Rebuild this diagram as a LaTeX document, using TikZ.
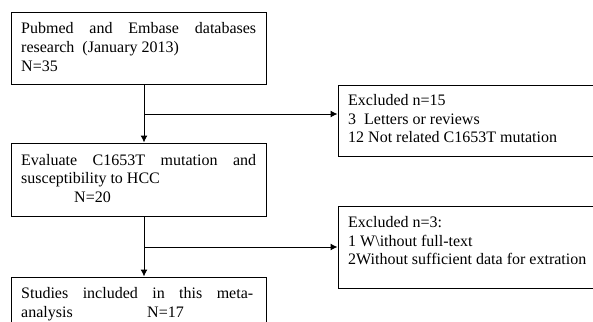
\documentclass[tikz,border=0pt]{standalone}
\usepackage{fontspec}
\setmainfont{Liberation Serif}
\usetikzlibrary{arrows.meta}
\begin{document}
\begin{tikzpicture}[x=1pt,y=-1pt,
  box/.style={draw, line width=1pt, rectangle, inner sep=0pt},
  txt/.style={anchor=base west, inner sep=0pt, font=\fontsize{16}{18.5}\selectfont},
  link/.style={line width=1pt},
  arr/.style={line width=1pt, -{Latex[length=7pt,width=7pt]}}]
\useasboundingbox (0,0) rectangle (593,321);
\clip (0,0) rectangle (593,321);
% boxes
\node[box, minimum width=255pt, minimum height=71pt] (b1) at (138.5,48.5) {};
\node[box, minimum width=255pt, minimum height=73pt] (b2) at (138.5,179.5) {};
\node[box, minimum width=255pt, minimum height=70pt] (b4) at (138.5,312) {};
\node[box, minimum width=270pt, minimum height=71pt] (b3) at (473,120.5) {};
\node[box, minimum width=270pt, minimum height=82pt] (b5) at (473,247) {};
% box 1 text
\node[txt] (t11) at (21,34) {\hbox to 235pt{Pubmed\hfill and\hfill Embase\hfill databases}};
\node[txt] (t12) at (21,52.5) {research\ \ (January 2013)};
\node[txt] (t13) at (21,71) {N=35};
% box 2 text
\node[txt] (t21) at (21,165) {\hbox to 235pt{Evaluate\hfill C1653T\hfill mutation\hfill and}};
\node[txt] (t22) at (21,183.5) {susceptibility to HCC};
\node[txt] (t23) at (74,202) {N=20};
% box 4 text
\node[txt] (t41) at (21,298.5) {\hbox to 232pt{Studies\hfill included\hfill in\hfill this\hfill meta-}};
\node[txt] (t42) at (21,317) {analysis};
\node[txt] (t43) at (147,317) {N=17};
% box 3 text
\node[txt] (t31) at (348,105.5) {Excluded n=15};
\node[txt] (t32) at (348,124) {3\ \ Letters or reviews};
\node[txt] (t33) at (348,142.5) {12 Not related C1653T mutation};
% box 5 text
\node[txt] (t51) at (348,227.5) {Excluded n=3:};
\node[txt] (t52) at (348,246) {1 W\textbackslash ithout full-text};
\node[txt] (t53) at (348,264.5) {2Without sufficient data for extration};
% connectors
\coordinate (j1) at (144,114);
\coordinate (j2) at (144,247);
\draw[arr] (b1.south -| j1) -- (b2.north -| j1);
\draw[arr] (j1) -- (b3.west |- j1);
\draw[arr] (b2.south -| j2) -- (b4.north -| j2);
\draw[arr] (j2) -- (b5.west |- j2);
\end{tikzpicture}
\end{document}
